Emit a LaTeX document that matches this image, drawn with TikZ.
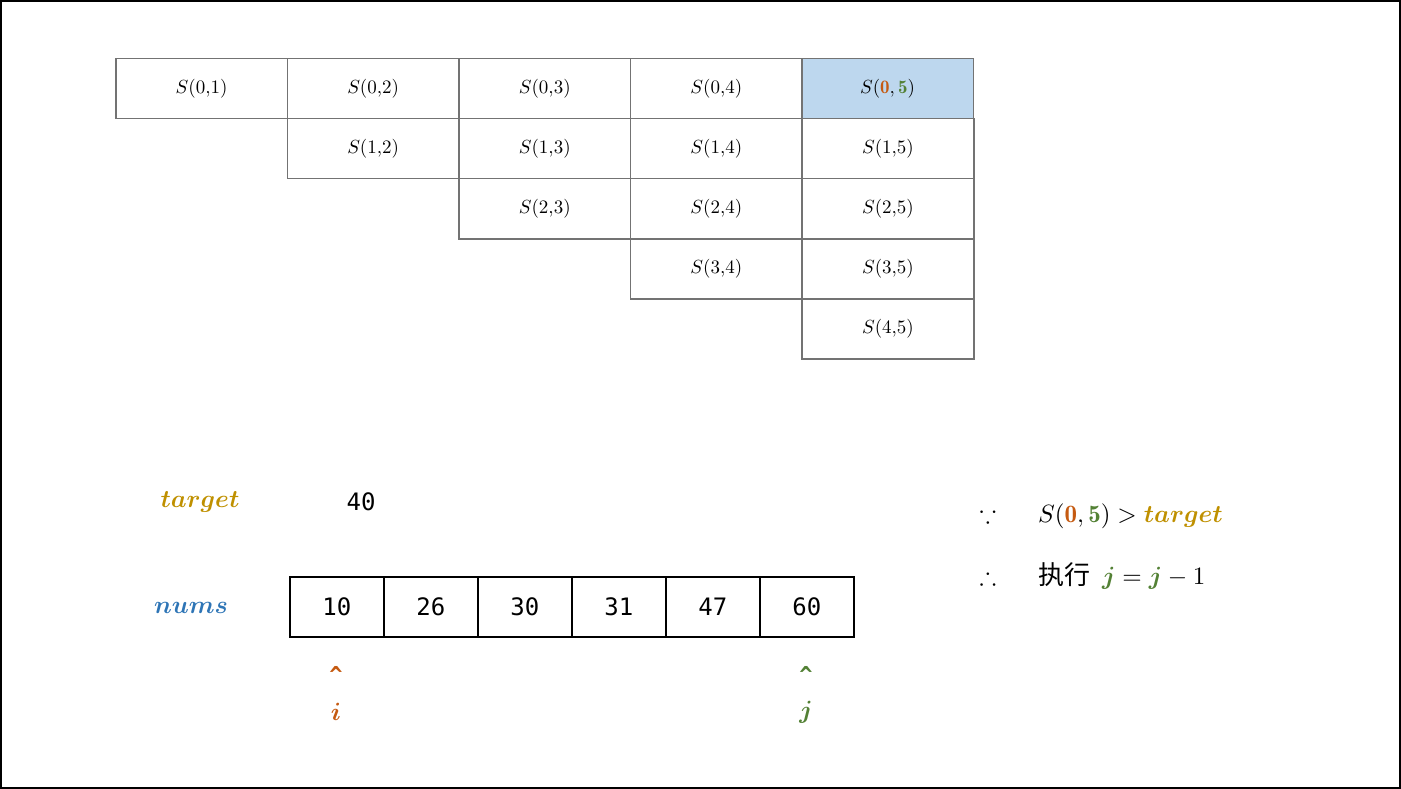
\documentclass[tikz,border=0pt]{standalone}
\usepackage{amsmath,amssymb,bm}
\usepackage{graphicx}
\usepackage{fontspec}
\newfontfamily\cjk{Noto Sans CJK SC}
\newfontfamily\monof{DejaVu Sans Mono}
\definecolor{cO}{HTML}{C55A11}
\definecolor{cG}{HTML}{538135}
\definecolor{cY}{HTML}{BF9000}
\definecolor{cB}{HTML}{2E75B6}
\definecolor{cF}{HTML}{BDD7EE}
\newcommand\mysc[1]{\scalebox{1.9}{#1}}
\newcommand\mybg[1]{\scalebox{2.5}{#1}}
\begin{document}
\begin{tikzpicture}[x=1pt,y=-1pt,
  cell/.style={draw=gray!90!black,line width=1.5pt,minimum width=171.6pt,minimum height=60pt,anchor=north west,inner sep=0pt},
  arr/.style={draw=black,line width=1.5pt,minimum width=94pt,minimum height=60pt,anchor=north west,inner sep=0pt,font=\monof\fontsize{24}{26}\selectfont},
  lbl/.style={inner sep=0pt}]
\useasboundingbox (0,0) rectangle (1401,789);
\draw[line width=2pt] (1,1) rectangle (1400,788);
\foreach \i in {0,...,4}{
  \foreach \j in {1,...,5}{
    \ifnum\j>\i
      \pgfmathsetmacro\xx{115+171.6*(\j-1)}
      \pgfmathsetmacro\yy{58+60*\i}
      \ifnum\i=0 \ifnum\j=5 \else
        \node[cell] (s\i\j) at (\xx,\yy) {\mysc{$S(\i{,}\j)$}};
      \fi\else
        \node[cell] (s\i\j) at (\xx,\yy) {\mysc{$S(\i{,}\j)$}};
      \fi
    \fi}}
\node[cell,fill=cF] (s05) at (801,58) {\mysc{$S(\textcolor{cO}{\mathbf{0}},\textcolor{cG}{\mathbf{5}})$}};
\node[lbl,text=cY] (tl) at (200,502) {\mybg{$\bm{target}$}};
\node[lbl,font=\monof\fontsize{24}{26}\selectfont] (tv) at (361,502) {40};
\node[lbl,text=cB] (nl) at (191,608) {\mybg{$\bm{nums}$}};
\foreach \v [count=\k from 0] in {10,26,30,31,47,60}{
  \node[arr] (a\k) at (289+94*\k,576) {\v};}
\node[lbl,text=cO,font=\monof\fontsize{22}{24}\selectfont\bfseries] (ic) at (336,674) {\^{}};
\node[lbl,text=cO] (il) at (336,712) {\mybg{$\bm{i}$}};
\node[lbl,text=cG,font=\monof\fontsize{22}{24}\selectfont\bfseries] (jc) at (806,674) {\^{}};
\node[lbl,text=cG] (jl) at (806,712) {\mybg{$\bm{j}$}};
\node[lbl] (because) at (988,514) {\mybg{$\because$}};
\node[lbl,anchor=west] (f1) at (1038,516) {\mybg{$S(\textcolor{cO}{\mathbf{0}},\textcolor{cG}{\mathbf{5}})>\textcolor{cY}{\bm{target}}$}};
\node[lbl] (therefore) at (988,576) {\mybg{$\therefore$}};
\node[lbl,anchor=west] (f2) at (1038,576) {{\cjk\fontsize{26}{28}\selectfont 执行}\hspace{12pt}\mybg{$\textcolor{cG}{\bm{j}}=\textcolor{cG}{\bm{j}}-1$}};
\end{tikzpicture}
\end{document}
